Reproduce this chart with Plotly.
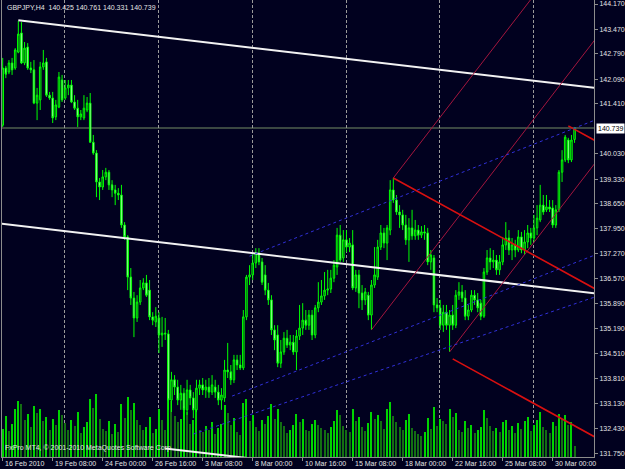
import plotly.graph_objects as go

# ---------------- data (GBPJPY, H4) ----------------
opens = [140.82,142.40,142.29,142.54,142.40,142.84,143.37,142.54,142.98,142.40,
         142.35,141.43,141.52,142.43,142.57,141.65,141.57,141.05,141.32,142.07,
         141.57,141.85,141.93,141.46,141.29,141.05,141.02,141.24,141.43,140.35,
         140.05,139.25,139.11,139.39,139.52,139.17,139.03,138.94,138.89,138.06,
         137.73,136.62,136.04,135.49,135.93,136.32,136.46,136.26,135.52,135.38,
         135.49,135.02,135.07,135.05,133.22,133.78,133.58,133.22,133.41,132.95,
         133.50,133.28,132.95,133.55,133.64,133.50,133.58,133.44,133.58,133.44,
         133.22,133.28,134.05,134.00,133.78,134.33,134.19,134.11,135.52,136.62,
         136.68,137.01,137.28,137.04,136.68,136.26,135.99,135.16,135.02,134.24,
         134.55,134.93,134.74,134.82,134.55,134.99,135.21,135.43,135.29,135.57,
         135.02,135.77,135.93,136.10,136.26,136.29,136.59,136.90,137.78,137.15,
         137.65,137.45,137.51,136.32,136.68,136.18,135.99,136.12,135.57,136.40,
         136.62,137.45,137.84,137.56,137.92,139.03,138.75,138.42,138.34,138.06,
         137.65,137.98,137.76,137.92,137.78,137.87,137.84,137.04,137.15,135.85,
         135.77,135.29,135.65,135.29,135.57,135.29,136.12,136.21,136.04,135.54,
         135.71,136.12,135.99,135.90,135.54,136.76,137.15,137.04,137.09,136.82,
         137.04,137.51,137.70,137.37,137.51,137.37,137.73,137.37,137.59,137.84,
         137.70,137.98,138.20,138.61,138.48,138.56,138.53,138.06,138.48,139.52,
         139.86,140.41,139.86,140.425]
highs = [142.68,142.46,142.62,142.68,142.95,143.70,143.67,143.12,143.09,142.57,
         142.62,141.85,142.57,142.90,142.68,141.74,141.74,141.52,142.29,142.21,
         142.07,142.07,142.07,141.65,141.52,141.24,141.65,141.60,141.71,140.55,
         140.13,139.36,139.58,139.64,139.58,139.30,139.17,139.08,139.17,138.14,
         137.78,136.87,136.21,136.12,136.54,136.59,136.68,136.54,135.65,135.79,
         135.65,135.52,135.49,135.16,134.00,133.91,133.78,133.64,133.55,133.78,
         133.64,133.44,133.78,133.78,133.83,133.78,133.83,133.91,133.78,133.64,
         133.55,134.33,134.80,134.19,134.47,134.47,134.47,135.71,136.68,136.95,
         137.28,137.42,137.42,137.15,136.95,136.46,136.12,135.29,135.29,134.88,
         135.10,135.16,135.02,135.02,135.16,135.85,135.90,135.71,135.71,135.71,
         135.85,136.48,136.54,136.76,136.82,136.82,137.09,137.98,138.06,137.92,
         137.92,137.70,137.92,136.82,136.82,136.40,136.32,136.21,136.54,137.45,
         137.65,138.06,137.98,138.06,139.30,139.36,138.89,138.61,138.48,138.34,
         138.25,138.48,138.20,138.06,138.03,138.06,137.98,137.37,137.23,136.04,
         135.99,135.85,135.85,135.71,135.85,136.26,136.48,136.40,136.26,135.85,
         136.26,136.26,136.18,135.99,136.87,137.37,137.42,137.37,137.23,137.23,
         137.73,138.14,137.92,137.70,137.65,137.92,137.87,137.92,138.06,137.98,
         138.34,138.61,139.17,138.89,138.89,138.75,138.75,138.61,139.58,140.13,
         140.55,140.47,140.55,140.761]
lows = [140.77,142.12,142.23,142.21,142.35,142.81,142.51,142.48,142.35,142.26,
        141.40,140.96,141.24,142.35,141.60,141.52,140.88,140.96,141.29,141.46,
        141.52,141.65,141.43,141.24,140.77,140.96,140.96,141.18,140.33,140.00,
        138.83,138.75,139.03,139.30,139.03,138.83,138.61,138.75,137.98,137.65,
        136.26,135.85,134.96,135.38,135.85,136.26,136.07,135.43,135.29,135.24,
        134.52,134.69,134.88,132.95,132.89,133.36,133.08,132.95,132.67,132.81,
        133.08,132.72,132.89,133.36,133.36,133.28,133.28,133.36,133.28,133.08,
        132.95,133.17,133.83,133.64,133.69,134.05,134.05,134.05,135.43,136.40,
        136.54,136.87,136.95,136.40,136.12,135.85,135.02,134.60,134.13,134.11,
        134.47,134.66,134.60,134.47,134.05,134.88,135.02,135.16,135.16,134.88,
        134.93,135.65,135.85,135.99,136.12,136.18,136.48,136.68,137.04,137.04,
        137.31,137.31,136.26,136.21,135.76,135.71,135.85,135.43,135.16,136.32,
        136.54,137.37,137.42,137.09,137.78,138.67,138.34,137.98,137.92,137.51,
        137.04,137.65,137.65,137.65,137.70,137.65,136.95,136.82,135.65,135.65,
        135.16,135.10,135.16,134.55,135.16,135.21,135.99,135.93,135.43,135.43,
        135.65,135.85,135.65,135.43,135.49,136.68,136.82,136.87,136.68,136.68,
        136.95,137.37,137.23,137.09,137.17,137.31,137.28,137.23,137.42,137.51,
        137.59,137.78,138.14,138.34,138.42,138.42,137.98,137.98,138.42,139.25,
        139.80,139.77,139.80,140.331]
closes = [142.40,142.23,142.54,142.35,142.90,143.34,142.54,142.95,142.40,142.35,
          141.43,141.65,142.43,142.54,141.65,141.57,141.02,141.38,142.15,141.52,
          141.85,141.93,141.46,141.29,141.05,141.13,141.29,141.43,140.35,140.05,
          139.25,139.11,139.39,139.52,139.17,139.03,138.94,138.89,138.06,137.73,
          136.62,136.04,135.49,135.93,136.32,136.46,136.12,135.52,135.43,135.54,
          135.02,135.07,135.05,133.22,133.78,133.58,133.22,133.41,132.95,133.50,
          133.28,132.95,133.55,133.64,133.50,133.58,133.44,133.64,133.44,133.22,
          133.36,134.05,134.00,133.78,134.33,134.19,134.11,135.52,136.62,136.68,
          137.01,137.28,137.04,136.48,136.26,135.99,135.16,134.88,134.24,134.55,
          134.93,134.74,134.82,134.55,134.99,135.21,135.43,135.29,135.57,135.02,
          135.77,135.93,136.10,136.26,136.29,136.59,136.95,137.78,137.09,137.65,
          137.45,137.56,136.32,136.68,136.18,135.99,136.21,135.57,136.40,136.68,
          137.45,137.84,137.56,137.98,139.03,138.75,138.42,138.34,138.06,137.65,
          137.98,137.76,137.92,137.78,137.87,137.84,137.04,137.23,135.85,135.77,
          135.29,135.65,135.29,135.57,135.29,136.12,136.21,136.04,135.54,135.71,
          136.12,135.99,135.77,135.54,136.76,137.15,137.04,137.09,136.82,137.04,
          137.51,137.70,137.37,137.51,137.37,137.73,137.37,137.59,137.84,137.70,
          137.98,138.25,138.61,138.42,138.56,138.50,138.06,138.48,139.52,139.86,
          140.49,139.86,140.41,140.739]
volumes = [3100,4500,2800,3600,5200,6100,5800,4100,4700,3300,
           5600,4800,5300,3900,4400,2900,4200,3500,5100,4600,
           3700,3000,4100,3400,4900,2600,3300,3800,6300,5400,
           6900,4200,3100,2800,3900,2500,3600,2700,5800,4300,
           6600,5100,5900,4000,3500,2900,3300,4400,2600,3100,
           5300,4000,2900,7200,6100,4500,3800,4200,5600,4900,
           3600,4100,5200,3000,2700,3400,2900,3800,2500,3200,
           3600,5700,4800,3500,4300,2700,2400,5900,6400,3900,
           4600,3300,2800,4000,3600,4500,5800,4200,5300,3800,
           3400,2600,2900,3500,4700,3800,4200,3000,2800,3600,
           4100,3500,3200,2900,2600,3300,3900,5100,4600,3400,
           3000,2700,5200,3900,4400,3300,2800,3700,4900,4200,
           4600,3900,3100,5300,6000,4500,3800,3300,2900,4100,
           4700,3200,2800,2500,2300,2700,4300,3100,5500,3400,
           4200,3900,3600,5200,4400,4800,3000,2700,3900,3200,
           3500,2600,2900,3300,5100,4300,3400,2800,3200,2700,
           3800,4100,3000,3400,2600,3700,3100,3900,4400,2800,
           3500,4000,4900,3300,2900,2600,3800,3400,4700,4200,
           4600,3500,3800,1200]
bars = list(range(len(closes)))

symbol = "GBPJPY,H4"
time_label_bars = [0, 16, 32, 48, 64, 80, 96, 112, 128, 144, 160, 176]
time_labels = ["16 Feb 2010", "19 Feb 08:00", "24 Feb 00:00", "26 Feb 16:00",
               "3 Mar 08:00", "8 Mar 00:00", "10 Mar 16:00", "15 Mar 08:00",
               "18 Mar 00:00", "22 Mar 16:00", "25 Mar 08:00", "30 Mar 00:00"]
price_ticks = [144.170, 143.470, 142.790, 142.090, 141.410, 140.030, 139.330,
               138.650, 137.950, 137.270, 136.570, 135.890, 135.190, 134.510,
               133.810, 133.130, 132.430, 131.750]

# drawing objects (anchor points: bar index, price)
channel_a1 = (5, 143.72)
channel_a2 = (120, 142.555)
channel_width = 5.68
channel_starts = [5, -1, 52]
maroon_fork = [(118, 135.16), (125, 139.36), (143, 134.55)]
red_fork = [(125, 139.36), (144, 134.36), (181, 140.80)]
blue_lines = [((79, 137.20), (189.5, 140.96)),
              ((73.4, 133.33), (189.5, 137.23)),
              ((61, 132.28), (189.5, 136.07))]

# ---------------- styling ----------------
BG = "#01011f"
GRID = "#9a9a9a"
AXIS = "#8c8c8c"
TXT = "#e4e4e4"
FONT = "Liberation Sans, Arial, sans-serif"
X_RANGE = [-0.224, 189.22]
Y_RANGE = [131.646, 144.281]
RIGHT = 200

fig = go.Figure()

vcolors = ["#00d400" if i == 0 or volumes[i] >= volumes[i - 1] else "#136e13"
           for i in range(len(volumes))]
fig.add_trace(go.Bar(x=bars, y=volumes, width=0.32, marker=dict(color=vcolors, line=dict(width=0)),
                     xaxis="x", yaxis="y", hoverinfo="skip"))

fig.add_trace(go.Candlestick(
    x=bars, open=opens, high=highs, low=lows, close=closes,
    xaxis="x", yaxis="y2", whiskerwidth=0,
    increasing=dict(line=dict(color="#00ff00", width=1), fillcolor="#063a1c"),
    decreasing=dict(line=dict(color="#00ff00", width=1), fillcolor="#d6ffd6"),
    hoverinfo="skip"))

# white equidistant channel
slope = (channel_a2[1] - channel_a1[1]) / (channel_a2[0] - channel_a1[0])
for k, start in enumerate(channel_starts):
    off = -channel_width * k
    xs = [start, RIGHT]
    ys = [channel_a1[1] + off + slope * (x - channel_a1[0]) for x in xs]
    fig.add_trace(go.Scatter(x=xs, y=ys, mode="lines", xaxis="x", yaxis="y2",
                             line=dict(color="#f2f2f2", width=2), hoverinfo="skip"))

def pitchfork(points, color, width, dash=None):
    (x1, y1), (x2, y2), (x3, y3) = points
    mx, my = (x2 + x3) / 2, (y2 + y3) / 2
    m = (my - y1) / (mx - x1)
    for (px, py) in points:
        xs = [px, RIGHT]
        ys = [py, py + m * (RIGHT - px)]
        fig.add_trace(go.Scatter(x=xs, y=ys, mode="lines", xaxis="x", yaxis="y2",
                                 line=dict(color=color, width=width, dash=dash), hoverinfo="skip"))

pitchfork(maroon_fork, "#a3163e", 1)
pitchfork(red_fork, "#d81010", 1.6)

for (p0, p1) in blue_lines:
    fig.add_trace(go.Scatter(x=[p0[0], p1[0]], y=[p0[1], p1[1]], mode="lines",
                             xaxis="x", yaxis="y2",
                             line=dict(color="#3030d8", width=1, dash="dot"), hoverinfo="skip"))

annotations = []
for b, t in zip(time_label_bars, time_labels):
    annotations.append(dict(x=b, xref="x", y=0, yref="paper", text=t, showarrow=False,
                            xanchor="left", yanchor="top", xshift=0, yshift=-1,
                            font=dict(family=FONT, size=7, color=TXT)))
last = closes[-1]
annotations.append(dict(x=1, xref="paper", y=last, yref="y2", text=f"{last:.3f}",
                        showarrow=False, xanchor="left", yanchor="middle", xshift=2,
                        bgcolor="#ffffff", borderpad=1,
                        font=dict(family=FONT, size=7, color="#000000")))
title = (f"{symbol}\u00a0\u00a0{opens[-1]:.3f} {highs[-1]:.3f} {lows[-1]:.3f} {closes[-1]:.3f}")
annotations.append(dict(x=0, xref="paper", y=1, yref="paper", text=title, showarrow=False,
                        xanchor="left", yanchor="top", xshift=3, yshift=-2,
                        font=dict(family=FONT, size=7, color=TXT)))
annotations.append(dict(x=0, xref="paper", y=0.02, yref="paper",
                        text="FxPro MT4, \u00a9 2001-2010 MetaQuotes Software Corp.",
                        showarrow=False, xanchor="left", yanchor="middle", xshift=1,
                        font=dict(family=FONT, size=7, color=TXT)))

fig.update_layout(
    width=625, height=469,
    margin=dict(l=2, r=31, t=0, b=12),
    paper_bgcolor=BG, plot_bgcolor=BG,
    showlegend=False, bargap=0,
    font=dict(family=FONT, size=7, color=TXT),
    xaxis=dict(range=X_RANGE, tickmode="array", tickvals=time_label_bars,
               ticks="outside", ticklen=3, tickcolor=AXIS, showticklabels=False,
               showgrid=False, zeroline=False, showline=True, linecolor=AXIS, linewidth=1,
               rangeslider=dict(visible=False),
               minor=dict(tickmode="array", tickvals=[19.9, 49.9, 79.9, 109.9, 139.9, 169.9],
                          showgrid=True, gridcolor=GRID, gridwidth=1, griddash="3px,2px",
                          ticks="")),
    yaxis=dict(range=[0, 50000], visible=False, fixedrange=True),
    yaxis2=dict(overlaying="y", side="right", range=Y_RANGE, tickmode="array",
                tickvals=price_ticks, ticktext=[f"{v:.3f}" for v in price_ticks],
                ticks="outside", ticklen=3, tickcolor=AXIS,
                tickfont=dict(family=FONT, size=7, color=TXT),
                showline=True, linecolor=AXIS, linewidth=1, mirror=True,
                showgrid=False, zeroline=False),
    shapes=[dict(type="line", xref="paper", x0=0, x1=1, yref="y2", y0=last, y1=last,
                 line=dict(color="#4f5f4f", width=1.5), layer="below")],
    annotations=annotations,
)

fig.write_html("out.html", config={"displayModeBar": False})
